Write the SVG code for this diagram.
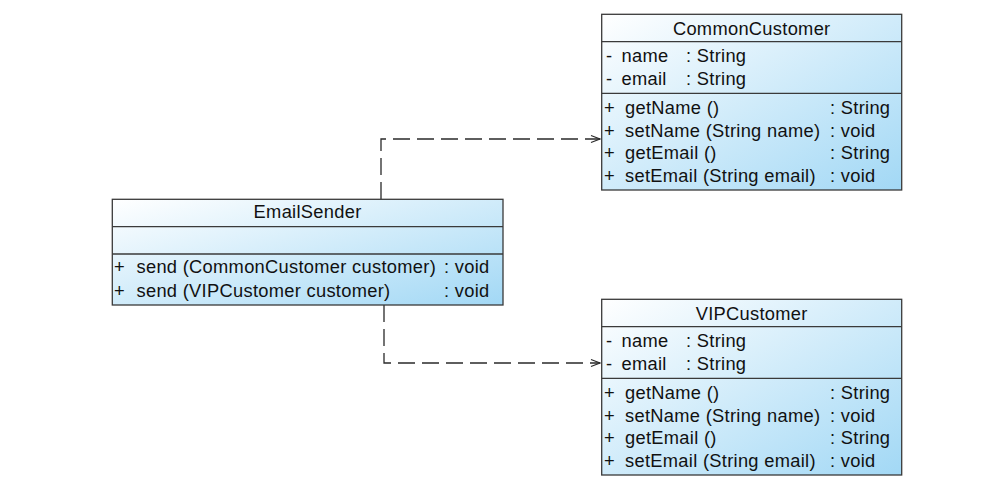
<svg xmlns="http://www.w3.org/2000/svg" width="1008" height="486" viewBox="0 0 1008 486">
<style>
.box{stroke:#3a3a3a;stroke-width:1.3;fill:url(#g)}
.sep{stroke:#3a3a3a;stroke-width:1.3}
text{font-family:"Liberation Sans",Arial,sans-serif;font-size:18.3px;fill:#111;letter-spacing:0.3px}
.c{text-anchor:middle}
.dep{fill:none;stroke:#2a2a2a;stroke-width:1.3;stroke-dasharray:17 7}
</style>
<defs>
<linearGradient id="g" x1="0" y1="0" x2="1" y2="1">
<stop offset="0" stop-color="#ffffff"/>
<stop offset="1" stop-color="#a2d8f5"/>
</linearGradient>
<marker id="arr" markerWidth="12" markerHeight="10" refX="11" refY="5" orient="auto" markerUnits="userSpaceOnUse">
<path d="M2,1.5 L11,5 L2,8.5" fill="none" stroke="#2a2a2a" stroke-width="1.2"/>
</marker>
</defs>
<g id="connectors">
<path class="dep" d="M381,199 L381,139 L600,139" marker-end="url(#arr)"/>
<path class="dep" d="M384,305 L384,363 L600,363" marker-end="url(#arr)"/>
</g>
<g id="CommonCustomer">
<rect class="box" x="601.7" y="14.3" width="300" height="175.7"/>
<line class="sep" x1="601.7" y1="41.7" x2="901.7" y2="41.7"/>
<line class="sep" x1="601.7" y1="93.3" x2="901.7" y2="93.3"/>
<text class="c" x="751.7" y="34.5">CommonCustomer</text>
<text x="606" y="62">-</text><text x="621.5" y="62">name</text><text x="686" y="62">: String</text>
<text x="606" y="84.7">-</text><text x="621.5" y="84.7">email</text><text x="686" y="84.7">: String</text>
<text x="604" y="114">+</text><text x="625" y="114">getName ()</text><text x="830" y="114">: String</text>
<text x="604" y="136.5">+</text><text x="625" y="136.5">setName (String name)</text><text x="830" y="136.5">: void</text>
<text x="604" y="159">+</text><text x="625" y="159">getEmail ()</text><text x="830" y="159">: String</text>
<text x="604" y="181.7">+</text><text x="625" y="181.7">setEmail (String email)</text><text x="830" y="181.7">: void</text>
</g>
<g id="VIPCustomer">
<rect class="box" x="601.7" y="299.3" width="300" height="175.7"/>
<line class="sep" x1="601.7" y1="326.7" x2="901.7" y2="326.7"/>
<line class="sep" x1="601.7" y1="378.3" x2="901.7" y2="378.3"/>
<text class="c" x="751.7" y="319.5">VIPCustomer</text>
<text x="606" y="347">-</text><text x="621.5" y="347">name</text><text x="686" y="347">: String</text>
<text x="606" y="369.7">-</text><text x="621.5" y="369.7">email</text><text x="686" y="369.7">: String</text>
<text x="604" y="399">+</text><text x="625" y="399">getName ()</text><text x="830" y="399">: String</text>
<text x="604" y="421.5">+</text><text x="625" y="421.5">setName (String name)</text><text x="830" y="421.5">: void</text>
<text x="604" y="444">+</text><text x="625" y="444">getEmail ()</text><text x="830" y="444">: String</text>
<text x="604" y="466.7">+</text><text x="625" y="466.7">setEmail (String email)</text><text x="830" y="466.7">: void</text>
</g>
<g id="EmailSender">
<rect class="box" x="112.3" y="199.3" width="390.7" height="105.7"/>
<line class="sep" x1="112.3" y1="226.7" x2="503" y2="226.7"/>
<line class="sep" x1="112.3" y1="254" x2="503" y2="254"/>
<text class="c" x="307.6" y="218.3">EmailSender</text>
<text x="114" y="273.3">+</text><text x="136.5" y="273.3">send (CommonCustomer customer)</text><text x="444" y="273.3">: void</text>
<text x="114" y="296.5">+</text><text x="136.5" y="296.5">send (VIPCustomer customer)</text><text x="444" y="296.5">: void</text>
</g>
</svg>
